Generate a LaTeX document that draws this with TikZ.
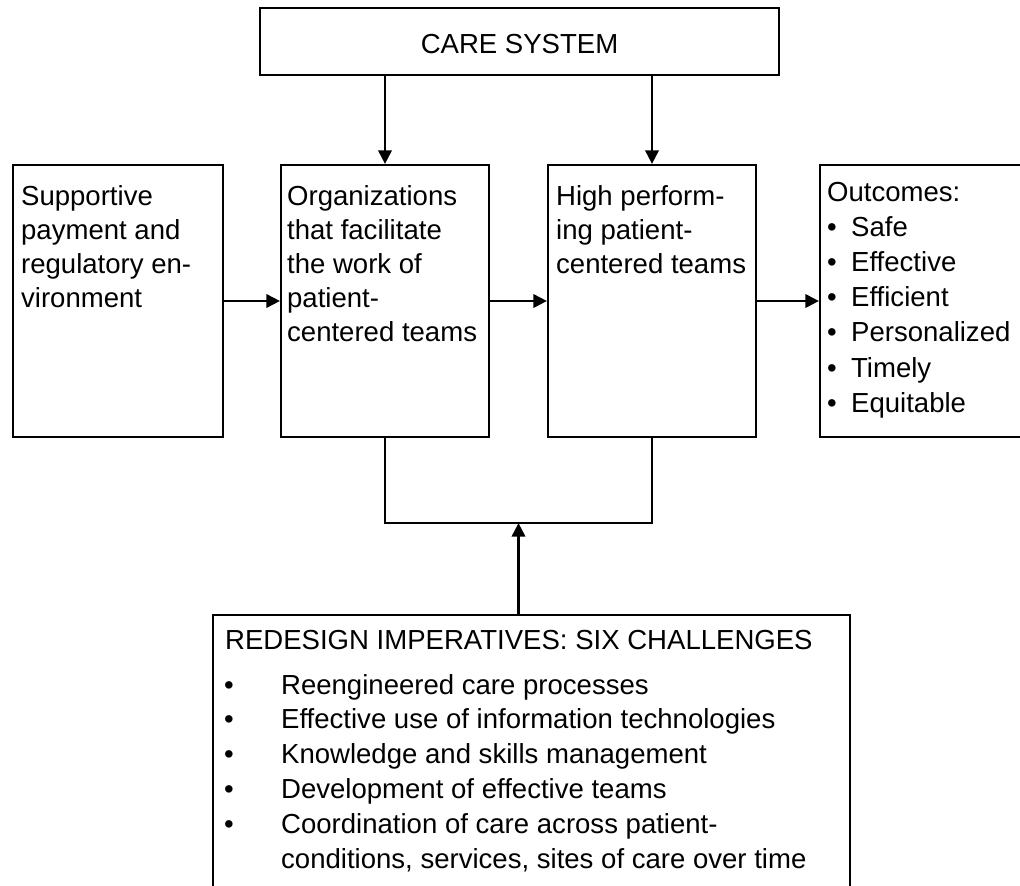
\documentclass[tikz,border=0pt]{standalone}
\usepackage{fontspec}
\setmainfont{Liberation Sans}
\usetikzlibrary{arrows.meta, positioning, calc}

\begin{document}
\begin{tikzpicture}[
    % Styles
    block/.style={draw, line width=1.6pt, minimum height=6.8cm, minimum width=5.2cm, inner sep=0pt},
    blocktext/.style={anchor=north west, align=left, inner sep=0pt, font=\fontsize{19.6}{24.2}\selectfont},
    arrowstyle/.style={-{Triangle[length=3.4mm, width=3.4mm]}, line width=1.5pt},
    link/.style={line width=1.5pt},
]
    \clip (0,0) rectangle (25.5,22.125);

    % Care system box on top
    \node[block, minimum width=12.975cm, minimum height=1.675cm, text height=0.62cm, font=\fontsize{19.6}{24.2}\selectfont] (care) at (12.9875, 21.0875) {CARE SYSTEM};

    % Row of four blocks
    \node[block, minimum width=5.25cm] (support) at (2.95, 14.6) {};
    \node[block] (org) at (9.625, 14.6) {};
    \node[block] (team) at (16.3, 14.6) {};
    \node[block, minimum width=5.5cm] (outcome) at (23.25, 14.6) {};

    % Texts, top left in each block
    \node[blocktext] (supporttext) at ([shift={(0.225,-0.53)}]support.north west)
        {Supportive\\payment and\\regulatory en-\\vironment};
    \node[blocktext] (orgtext) at ([shift={(0.175,-0.53)}]org.north west)
        {Organizations\\that facilitate\\the work of\\patient-\\centered teams};
    \node[blocktext] (teamtext) at ([shift={(0.225,-0.53)}]team.north west)
        {High perform-\\ing patient-\\centered teams};
    \node[blocktext, font=\fontsize{19.6}{25}\selectfont] (outcometext) at ([shift={(0.2,-0.45)}]outcome.north west)
        {Outcomes:\\
         \makebox[0.6cm][l]{\textbullet}Safe\\
         \makebox[0.6cm][l]{\textbullet}Effective\\
         \makebox[0.6cm][l]{\textbullet}Efficient\\
         \makebox[0.6cm][l]{\textbullet}Personalized\\
         \makebox[0.6cm][l]{\textbullet}Timely\\
         \makebox[0.6cm][l]{\textbullet}Equitable};

    % Redesign imperatives at the bottom
    \node[block, minimum width=15.925cm, minimum height=7.05cm] (redesign) at (13.2875, 3.225) {};
    \node[blocktext] (redesigntitle) at ([shift={(0.325,-0.4)}]redesign.north west)
        {REDESIGN IMPERATIVES: SIX CHALLENGES};
    \node[blocktext, font=\fontsize{19.6}{24.8}\selectfont] (redesignlist) at ([shift={(0.3,-1.5)}]redesign.north west)
        {\makebox[1.425cm][l]{\textbullet}Reengineered care processes\\
         \makebox[1.425cm][l]{\textbullet}Effective use of information technologies\\
         \makebox[1.425cm][l]{\textbullet}Knowledge and skills management\\
         \makebox[1.425cm][l]{\textbullet}Development of effective teams\\
         \makebox[1.425cm][l]{\textbullet}Coordination of care across patient-\\
         \hspace*{1.425cm}conditions, services, sites of care over time};

    % Arrows down from care system
    \draw[arrowstyle] (care.south -| org.north) -- (org.north);
    \draw[arrowstyle] (care.south -| team.north) -- (team.north);

    % Arrows along the row
    \draw[arrowstyle] (support.east) -- (org.west);
    \draw[arrowstyle] (org.east) -- (team.west);
    \draw[arrowstyle] (team.east) -- (outcome.west);

    % Bracket below the middle blocks
    \coordinate (joinpt) at ($(org.south)!0.5!(team.south) + (0,-2.125)$);
    \draw[link] (org.south) |- (joinpt) -| (team.south);
    \draw[arrowstyle] (joinpt |- redesign.north) -- (joinpt);
\end{tikzpicture}
\end{document}
